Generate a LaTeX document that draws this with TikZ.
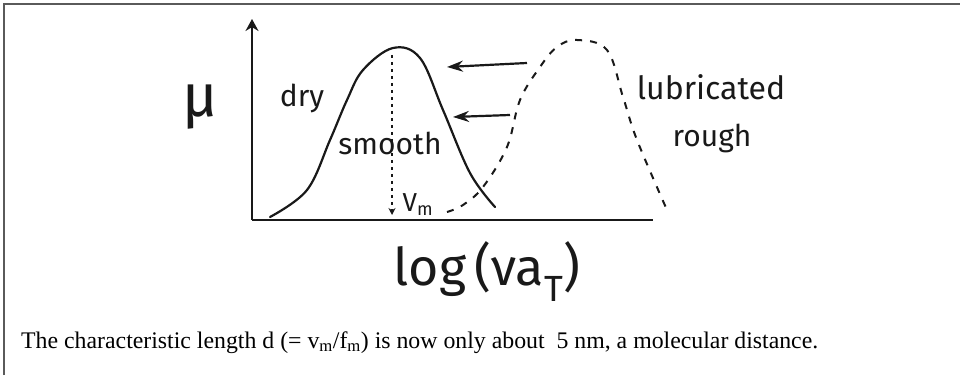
\documentclass[tikz,border=0pt]{standalone}
\usepackage{fontspec}
\setmainfont{Liberation Serif}
\newfontfamily\handfont{Fira Sans}
\usepackage{tikz}
\usetikzlibrary{positioning,calc,arrows.meta}
\definecolor{inkblack}{RGB}{25,25,25}
\definecolor{framegray}{RGB}{90,90,90}

\begin{document}
\begin{tikzpicture}[
        x=1pt, y=1pt,
        hand/.style={font=\handfont\fontsize{30}{32}\selectfont, inner sep=0pt, text=inkblack, anchor=base},
        curve/.style={inkblack, line width=2.2pt, line cap=round},
        dashcurve/.style={inkblack, line width=2pt, dash pattern=on 7pt off 8pt},
        axis/.style={inkblack, line width=1.8pt},
        arrow/.style={-{Stealth[length=16pt,width=11pt]}, line width=2.2pt, inkblack},
        caption/.style={font=\fontsize{23.8}{26}\selectfont, inner sep=0pt, anchor=base west}
    ]
        \useasboundingbox (0,0) rectangle (960,375);
        \draw[framegray, line width=1.6pt] (4,0) -- (4,371) -- (960,371);

        % Axes
        \coordinate (origin) at (252,155);
        \coordinate (ytop) at (252,356);
        \coordinate (xend) at (653,155);
        \draw[axis, -{Stealth[length=12pt,width=13pt]}] (origin) -- (ytop);
        \draw[axis] (origin) -- (xend);

        % Curves
        \draw[curve] plot[smooth, tension=0.6] coordinates {(270,158) (307,185) (330,235) (347,275) (363,305) (393,327) (420,317) (443,265) (470,202) (495,168)};
        \draw[dashcurve] plot[smooth, tension=0.6] coordinates {(447,163) (463,170) (483,188) (507,228) (520,275) (540,308) (557,328) (577,335) (607,325) (623,278) (637,235) (667,165)};

        % Nodes
        \coordinate (peak) at (392,320);
        \coordinate (vfoot) at (392,160);
        \node[hand, font=\handfont\fontsize{60}{62}\selectfont] (mu) at (200,258) {μ};
        \node[hand] (dry) at (302,268) {dry};
        \node[hand] (smooth) at (390,220) {smooth};
        \node[hand, font=\handfont\fontsize{26}{28}\selectfont] (vm) at (418,163) {V\textsubscript{m}};
        \node[hand, font=\handfont\fontsize{32}{34}\selectfont] (lubricated) at (711,275) {lubricated};
        \node[hand] (rough) at (712,228) {rough};
        \node[hand, font=\handfont\fontsize{52}{54}\selectfont] (logaxis) at (487,90) {log\,(νa\textsubscript{T})};
        \node[caption] (note) at (21,27) {The characteristic length d (= v\textsubscript{m}/f\textsubscript{m}) is now only about\ \ 5 nm, a molecular distance.};

        % Arrows
        \coordinate (a1tail) at (527,312);
        \coordinate (a1tip) at (447,308);
        \coordinate (a2tail) at (510,260);
        \coordinate (a2tip) at (453,258);
        \draw[arrow] (a1tail) -- (a1tip);
        \draw[arrow] (a2tail) -- (a2tip);
        \draw[inkblack, line width=1.6pt, dash pattern=on 3pt off 4pt, -{Stealth[length=7pt,width=7pt]}] (peak) -- (vfoot);
    \end{tikzpicture}
\end{document}
